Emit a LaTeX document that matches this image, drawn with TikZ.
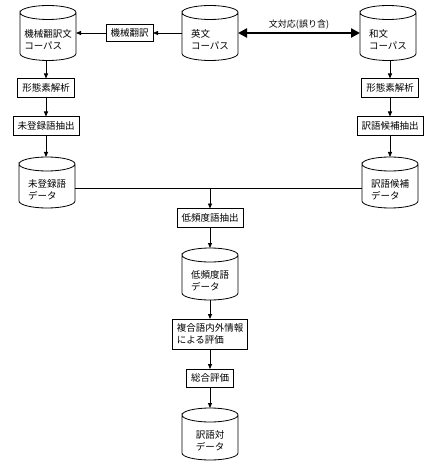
\documentclass[tikz,border=0pt]{standalone}
\usepackage{fontspec}
\setmainfont{Noto Sans CJK JP}
\usetikzlibrary{arrows.meta}
\newcommand{\dbdraw}[1]{%
  \draw[line width=0.8pt] ([yshift=-7pt]#1.north west)
    arc[start angle=180,end angle=0,x radius=28pt,y radius=7pt]
    arc[start angle=0,end angle=-180,x radius=28pt,y radius=7pt]
    -- ([yshift=7pt]#1.south west)
    arc[start angle=180,end angle=360,x radius=28pt,y radius=7pt]
    -- ([yshift=-7pt]#1.north east);}
\begin{document}
\begin{tikzpicture}[x=1pt,y=1pt,
  every node/.style={font=\fontsize{9.5}{12}\selectfont, outer sep=0pt},
  proc/.style={draw, line width=0.9pt, minimum height=19pt, inner xsep=4.5pt, inner ysep=2pt},
  db/.style={minimum width=56pt, inner sep=0pt},
  dbtext/.style={align=left, yshift=-7pt, font=\fontsize{9.5}{12}\selectfont},
  conn/.style={line width=0.8pt, -{Triangle[length=5pt,width=4pt]}},
  plain/.style={line width=0.8pt},
  dbl/.style={line width=2.4pt, {Triangle[length=9pt,width=9pt]}-{Triangle[length=9pt,width=9pt]}}]
\useasboundingbox (0,0) rectangle (440,-470);

% top row
\node[db, minimum height=55pt, label={[dbtext]center:機械翻訳文\\コーパス}] (mtc) at (48,-33) {};
\node[db, minimum height=55pt, label={[dbtext]center:英文\\コーパス}] (en) at (210,-33) {};
\node[db, minimum height=55pt, label={[dbtext]center:和文\\コーパス}] (ja) at (388,-33) {};
\node[proc, minimum height=17pt] (mtb) at (129.5,-33) {機械翻訳};

% left column
\node[proc] (lm) at (46,-88) {形態素解析};
\node[proc] (lx) at (46,-126) {未登録語抽出};
\node[db, minimum height=51pt, label={[dbtext]center:未登録語\\データ}] (ld) at (47,-182.5) {};

% right column
\node[proc] (rm) at (390,-88) {形態素解析};
\node[proc] (rx) at (390,-126) {訳語候補抽出};
\node[db, minimum height=51pt, label={[dbtext]center:訳語候補\\データ}] (rd) at (390,-182.5) {};

% centre column
\coordinate (j) at (210,-188.5);
\node[proc] (lf) at (210,-218) {低頻度語抽出};
\node[db, minimum height=52pt, label={[dbtext]center:低頻度語\\データ}] (lfd) at (210,-274) {};
\node[proc, align=left, minimum height=30pt] (cmp) at (210,-334) {複合語内外情報\\による評価};
\node[proc, minimum height=18pt] (tot) at (210,-378) {総合評価};
\node[db, minimum height=52pt, label={[dbtext]center:訳語対\\データ}] (pair) at (210,-434) {};

% cylinder outlines
\foreach \n in {mtc,en,ja,ld,rd,lfd,pair} {\dbdraw{\n}}

% connectors
\draw[conn] (en.west) -- (mtb.east);
\draw[conn] (mtb.west) -- (mtc.east);
\draw[dbl] (en.east) -- node[above=0pt, font=\fontsize{9}{11}\selectfont] (lbl) {文対応(誤り含)} (ja.west);

\draw[conn] (mtc.south -| lm.north) -- (lm.north);
\draw[conn] (lm.south) -- (lx.north);
\draw[conn] (lx.south) -- (lx.south |- ld.north);

\draw[conn] (ja.south -| rm.north) -- (rm.north);
\draw[conn] (rm.south) -- (rx.north);
\draw[conn] (rx.south) -- (rd.north);

\draw[plain] (ld.east |- j) -- (rd.west |- j);
\draw[conn] (j) -- (lf.north);
\draw[conn] (lf.south) -- (lfd.north);
\draw[conn] (lfd.south) -- (cmp.north);
\draw[conn] (cmp.south) -- (tot.north);
\draw[conn] (tot.south) -- (pair.north);
\end{tikzpicture}
\end{document}
